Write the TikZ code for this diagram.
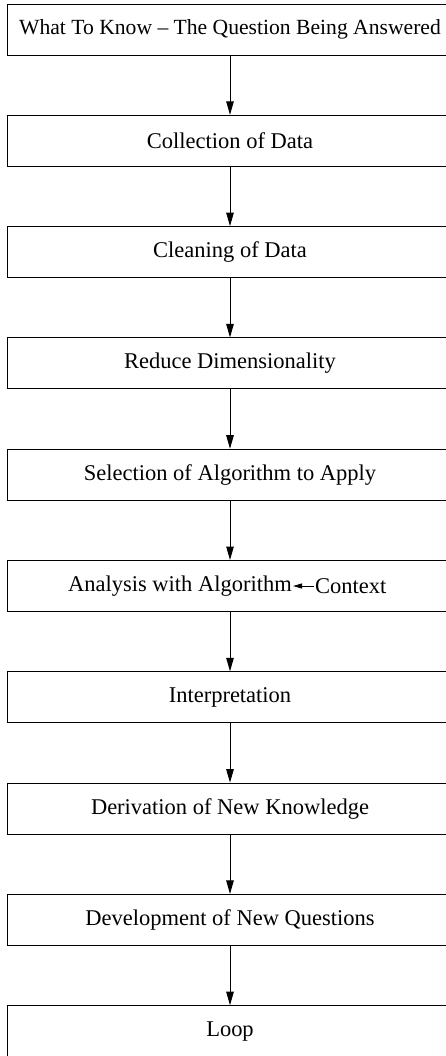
\documentclass[tikz,border=0pt]{standalone}
\usepackage{fontspec}
\setmainfont{Liberation Serif}
\usepackage{tikz}
\usetikzlibrary{arrows.meta, positioning}

\begin{document}
\begin{tikzpicture}[
    stage/.style={rectangle, draw=black, fill=white, minimum width=8.92cm, minimum height=1.02cm, inner sep=0pt, align=center, font=\fontsize{12.8}{15}\selectfont, line width=0.55pt},
    txt/.style={inner sep=0.5pt, font=\fontsize{12.8}{15}\selectfont},
    arrow/.style={-{Triangle[length=0.27cm, width=0.15cm]}, line width=0.55pt},
    smallarrow/.style={-{Triangle[length=0.18cm, width=0.1cm]}, line width=0.55pt}
]
    \useasboundingbox (0,0) rectangle (8.92,-21.12);

    % --- Stages of the process ---
    \node[stage, font=\fontsize{12.3}{15}\selectfont] (know) at (4.6, -0.59) {What To Know -- The Question Being Answered};
    \node[stage] (collect) at (4.6, -2.816) {Collection of Data};
    \node[stage] (clean) at (4.6, -5.042) {Cleaning of Data};
    \node[stage] (reduce) at (4.6, -7.268) {Reduce Dimensionality};
    \node[stage] (select) at (4.6, -9.494) {Selection of Algorithm to Apply};
    \node[stage] (analysis) at (4.6, -11.72) {};
    \node[stage] (interp) at (4.6, -13.946) {Interpretation};
    \node[stage] (derive) at (4.6, -16.172) {Derivation of New Knowledge};
    \node[stage] (develop) at (4.6, -18.398) {Development of New Questions};
    \node[stage] (loop) at (4.6, -20.624) {Loop};

    % Text inside the analysis box
    \node[txt, anchor=east] (algo) at (5.86, -11.72) {Analysis with Algorithm};
    \node[txt, right=0.42cm of algo] (context) {Context};

    % Connections
    \draw[arrow] (know) -- (collect);
    \draw[arrow] (collect) -- (clean);
    \draw[arrow] (clean) -- (reduce);
    \draw[arrow] (reduce) -- (select);
    \draw[arrow] (select) -- (analysis);
    \draw[arrow] (analysis) -- (interp);
    \draw[arrow] (interp) -- (derive);
    \draw[arrow] (derive) -- (develop);
    \draw[arrow] (develop) -- (loop);
    \draw[smallarrow] (context) -- (algo);
\end{tikzpicture}
\end{document}
